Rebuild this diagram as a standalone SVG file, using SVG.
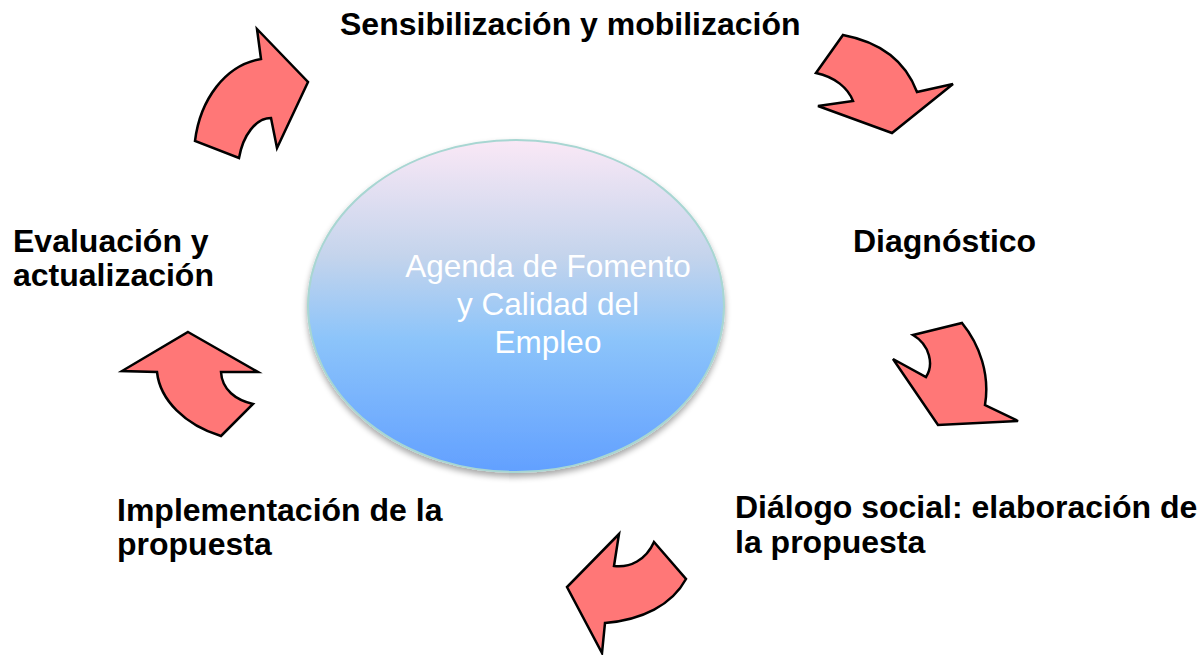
<svg xmlns="http://www.w3.org/2000/svg" width="1200" height="655" viewBox="0 0 1200 655">
<style>
.arrow{fill:#FF7777;stroke:#000;stroke-width:2.5;stroke-linejoin:miter}
.lbl{font-family:"Liberation Sans",Arial,sans-serif;font-weight:bold;font-size:32px;fill:#000}
.ctr{font-family:"Liberation Sans",Arial,sans-serif;font-size:31.5px;fill:#FFFFFF;text-anchor:middle}
</style>
<defs>
<linearGradient id="g" x1="0" y1="0" x2="0" y2="1">
<stop offset="0" stop-color="#FAE8F6"/>
<stop offset="0.35" stop-color="#C4D4EC"/>
<stop offset="0.6" stop-color="#8CC4FA"/>
<stop offset="1" stop-color="#62A0FF"/>
</linearGradient>
<filter id="sh" x="-10%" y="-10%" width="120%" height="125%">
<feGaussianBlur in="SourceAlpha" stdDeviation="3"/>
<feOffset dx="0" dy="4"/>
<feComponentTransfer><feFuncA type="linear" slope="0.35"/></feComponentTransfer>
<feMerge><feMergeNode/><feMergeNode in="SourceGraphic"/></feMerge>
</filter>
</defs>
<g id="center">
<ellipse cx="516" cy="306" rx="208" ry="166" fill="url(#g)" stroke="#A8D6D2" stroke-width="2" filter="url(#sh)"/>
<text class="ctr" x="548" y="277">Agenda de Fomento</text>
<text class="ctr" x="548" y="315">y Calidad del</text>
<text class="ctr" x="548" y="353">Empleo</text>
</g>
<g id="connectors">
<path class="arrow" d="M195,141 C200,100 225,65 261,59 L257,29 L308,82 L277,148 L271,118 C256,118 243,135 239,158 Z"/>
<path class="arrow" d="M843,35 C880,42 905,60 917,92 L953,84 L892,133 L818,106 L853,101 C848,88 835,77 816,73 Z"/>
<path class="arrow" d="M913,335 L962,323 C980,345 990,375 985,405 L1018,421 L938,425 L893,359 L926,377 C934,365 930,345 913,335 Z"/>
<path class="arrow" d="M654,542 L686,579 C672,605 642,620 605,623 L602,653 L567,587 L619,534 L614,566 C630,568 646,560 654,542 Z"/>
<path class="arrow" d="M188,332 L258,372 L221,372 C222,390 236,400 253,404 L221,436 C185,425 160,400 157,372 L122,371 Z"/>
</g>
<g id="n1"><text class="lbl" x="340" y="35">Sensibilización y mobilización</text></g>
<g id="n2"><text class="lbl" x="853" y="252">Diagnóstico</text></g>
<g id="n3"><text class="lbl" x="735" y="518">Diálogo social: elaboración de</text><text class="lbl" x="735" y="553">la propuesta</text></g>
<g id="n4"><text class="lbl" x="117" y="521">Implementación de la</text><text class="lbl" x="117" y="555">propuesta</text></g>
<g id="n5"><text class="lbl" x="13" y="252">Evaluación y</text><text class="lbl" x="13" y="286">actualización</text></g>
</svg>
